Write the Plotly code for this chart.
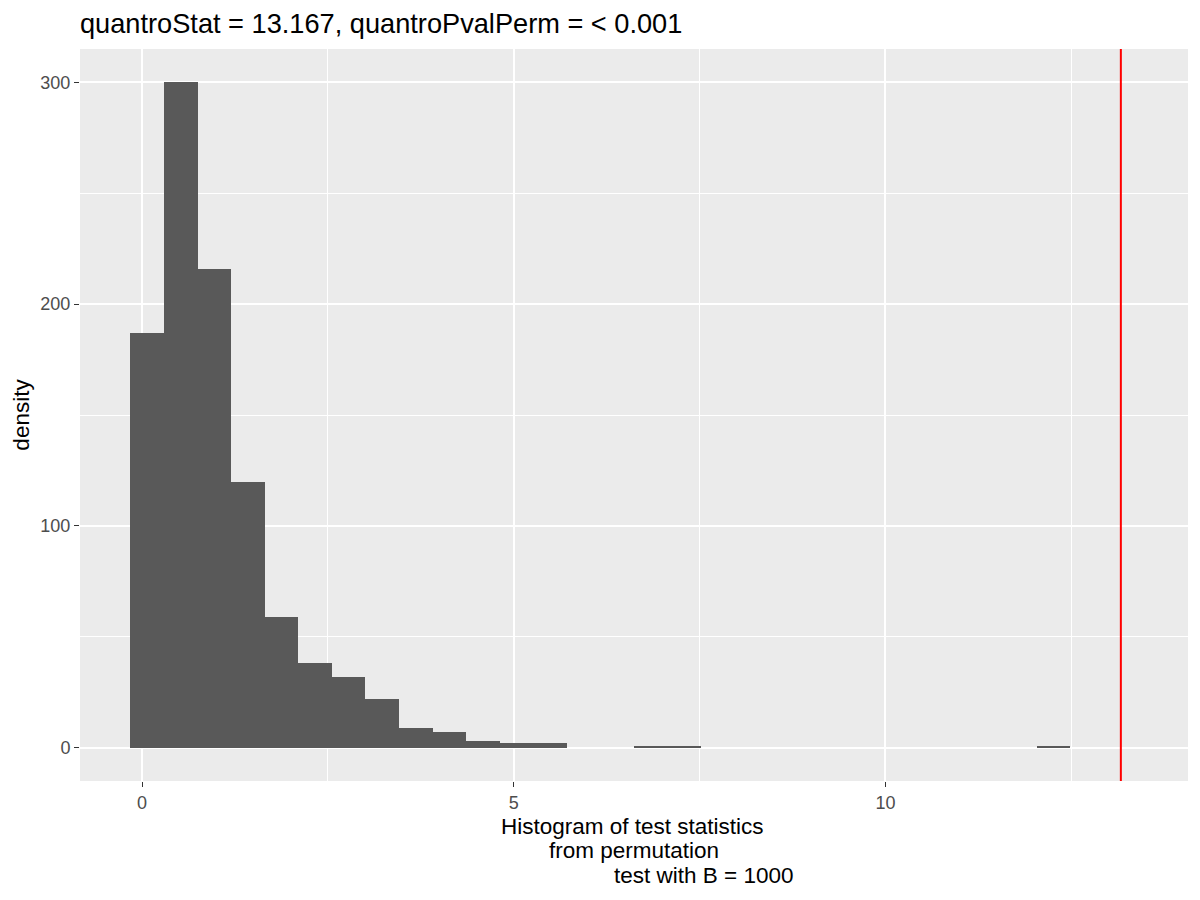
import plotly.graph_objects as go

# permutation test statistics, binned like ggplot (30 bins over the x scale range)
obs_stat = 13.167
stat_min = 0.069
n_bins = 30
counts = [187, 300, 216, 120, 59, 38, 32, 22, 9, 7, 3, 2, 2, 0, 0,
          1, 1, 0, 0, 0, 0, 0, 0, 0, 0, 0, 0, 1, 0, 0]

x_ticks = [0, 5, 10]
y_ticks = [0, 100, 200, 300]

title_text = "quantroStat = 13.167, quantroPvalPerm = < 0.001"
x_title_lines = ["Histogram of test statistics", "from permutation", "test with B = 1000"]
y_title = "density"

binwidth = (obs_stat - stat_min) / (n_bins - 1)
centers = [stat_min + i * binwidth for i in range(n_bins)]

lo = stat_min - binwidth / 2
hi = obs_stat + binwidth / 2
pad = (hi - lo) * 0.05
ypad = max(counts) * 0.05

FONT = "Liberation Sans, Arial, sans-serif"
W, H = 1192, 892  # page body keeps an 8px margin

fig = go.Figure()
fig.add_trace(go.Bar(
	x = centers,
	y = counts,
	width = binwidth,
	marker = dict(color = "#595959", line = dict(width = 0)),
	showlegend = False,
	hoverinfo = "x+y",
))

fig.add_vline(x = obs_stat, line = dict(color = "#FF0000", width = 2))

fig.update_layout(
	width = W,
	height = H,
	margin = dict(l = 72, r = 12, t = 41, b = 119, autoexpand = False),
	paper_bgcolor = "white",
	plot_bgcolor = "#EBEBEB",
	bargap = 0,
	font = dict(family = FONT, color = "black"),
	title = dict(
		text = title_text,
		x = 72 / W,
		xanchor = "left",
		xref = "container",
		y = 1 - 15 / H,
		yanchor = "middle",
		yref = "container",
		font = dict(size = 27.2, color = "black", family = FONT),
	),
)

# x axis title: three lines, ggplot-style tight line spacing, last line pushed right
line_shift = [(-2, -45), (0, -69.5), (69, -94)]
for text, (dx, dy) in zip(x_title_lines, line_shift):
	fig.add_annotation(
		text = text,
		xref = "paper", yref = "paper",
		x = 0.5, y = 0,
		xanchor = "center", yanchor = "middle",
		xshift = dx, yshift = dy,
		showarrow = False,
		font = dict(size = 22.5, color = "black", family = FONT),
	)

axis_common = dict(
	showgrid = True,
	gridcolor = "white",
	gridwidth = 2,
	zeroline = False,
	showline = False,
	automargin = False,
	ticks = "outside",
	ticklen = 5,
	tickwidth = 1.2,
	tickcolor = "#333333",
	tickfont = dict(size = 18, color = "#4D4D4D", family = FONT),
)

fig.update_xaxes(
	**axis_common,
	range = [lo - pad, hi + pad],
	tickvals = x_ticks,
	ticktext = [str(v) for v in x_ticks],
	minor = dict(dtick = 2.5, tick0 = 0, showgrid = True, gridcolor = "white", gridwidth = 1, ticks = ""),
)
fig.update_yaxes(
	**axis_common,
	range = [-ypad, max(counts) + ypad],
	tickvals = y_ticks,
	ticktext = [str(v) for v in y_ticks],
	minor = dict(dtick = 50, tick0 = 0, showgrid = True, gridcolor = "white", gridwidth = 1, ticks = ""),
	title = dict(text = y_title, font = dict(size = 22.5, color = "black", family = FONT), standoff = 4),
)

fig.write_html("out.html")
